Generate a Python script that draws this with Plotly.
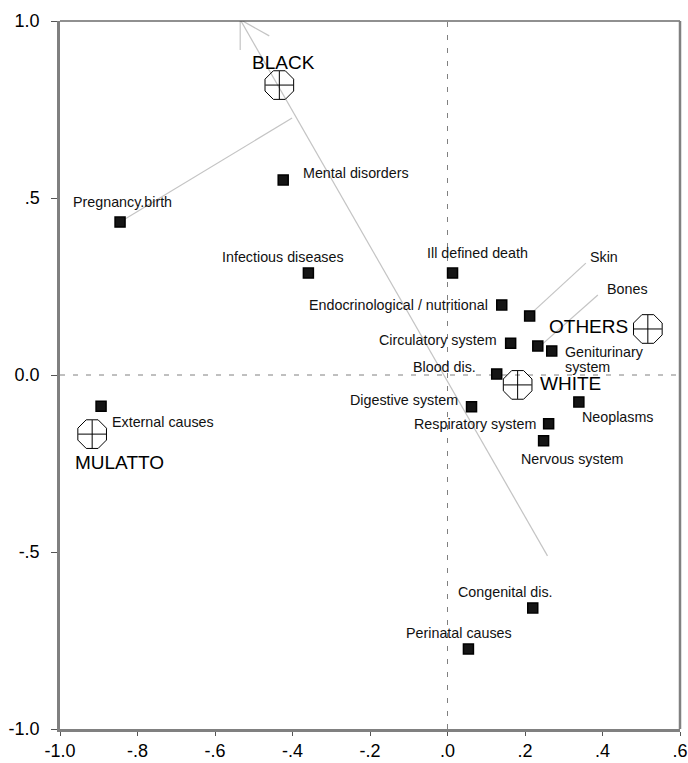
import plotly.graph_objects as go

# Causes of death (row points)
causes = [
    "Pregnancy.birth", "Mental disorders", "Infectious diseases", "Ill defined death",
    "Endocrinological / nutritional", "Skin", "Circulatory system", "Bones",
    "Geniturinary system", "Blood dis.", "Digestive system", "Neoplasms",
    "Respiratory system", "Nervous system", "External causes", "Congenital dis.",
    "Perinatal causes",
]
cause_x = [-0.845, -0.424, -0.359, 0.013, 0.140, 0.212, 0.163, 0.233, 0.269, 0.127,
           0.062, 0.339, 0.261, 0.248, -0.894, 0.220, 0.054]
cause_y = [0.432, 0.551, 0.288, 0.288, 0.198, 0.167, 0.090, 0.082, 0.068, 0.003,
           -0.090, -0.076, -0.138, -0.186, -0.088, -0.658, -0.774]

# Race / colour groups (column points)
groups = ["BLACK", "OTHERS", "WHITE", "MULATTO"]
group_x = [-0.434, 0.517, 0.181, -0.917]
group_y = [0.819, 0.130, -0.028, -0.167]

# Axis ticks
x_ticks = [-1.0, -0.8, -0.6, -0.4, -0.2, 0.0, 0.2, 0.4, 0.6]
x_tick_text = ["-1.0", "-.8", "-.6", "-.4", "-.2", ".0", ".2", ".4", ".6"]
y_ticks = [1.0, 0.5, 0.0, -0.5, -1.0]
y_tick_text = ["1.0", ".5", "0.0", "-.5", "-1.0"]

# Guide lines drawn on the map
arrow_x = [0.258, -0.535]
arrow_y = [-0.511, 1.004]
arrow_head1_x = [-0.535, -0.535]
arrow_head1_y = [1.004, 0.918]
arrow_head2_x = [-0.535, -0.460]
arrow_head2_y = [1.004, 0.958]
preg_leader_x = [-0.845, -0.401]
preg_leader_y = [0.432, 0.726]
skin_leader_x = [0.214, 0.357]
skin_leader_y = [0.172, 0.316]
bones_leader_x = [0.233, 0.388]
bones_leader_y = [0.076, 0.226]

FONT = "Liberation Sans, Arial, sans-serif"
GUIDE = "#c4c4c4"

# label placement for causes: list of (text line, xanchor, xshift, yshift)
cause_label_pos = {
    "Pregnancy.birth": [("Pregnancy.birth", "center", 2, 20)],
    "Mental disorders": [("Mental disorders", "left", 18, 7)],
    "Infectious diseases": [("Infectious diseases", "center", -25, 16)],
    "Ill defined death": [("Ill defined death", "center", 25, 20)],
    "Endocrinological / nutritional": [("Endocrinological / nutritional", "right", -12, 0)],
    "Skin": [("Skin", "center", 74, 59)],
    "Circulatory system": [("Circulatory system", "right", -12, 3)],
    "Bones": [("Bones", "center", 90, 57)],
    "Geniturinary system": [("Geniturinary", "left", 11, -1), ("system", "left", 11, -16)],
    "Blood dis.": [("Blood dis.", "right", -19, 7)],
    "Digestive system": [("Digestive system", "right", -12, 7)],
    "Neoplasms": [("Neoplasms", "center", 39, -15)],
    "Respiratory system": [("Respiratory system", "right", -11, 0)],
    "Nervous system": [("Nervous system", "center", 29, -18)],
    "External causes": [("External causes", "left", 9, -16)],
    "Congenital dis.": [("Congenital dis.", "center", -27, 16)],
    "Perinatal causes": [("Perinatal causes", "center", -9, 16)],
}
group_label_pos = {
    "BLACK": ("center", 4, 23),
    "OTHERS": ("right", -18, 2),
    "WHITE": ("left", 20, 1),
    "MULATTO": ("center", 27, -28),
}

fig = go.Figure()

line_sets = [
    (arrow_x, arrow_y), (arrow_head1_x, arrow_head1_y), (arrow_head2_x, arrow_head2_y),
    (preg_leader_x, preg_leader_y), (skin_leader_x, skin_leader_y),
    (bones_leader_x, bones_leader_y),
]
for lx, ly in line_sets:
    fig.add_trace(go.Scatter(x=lx, y=ly, mode="lines",
                             line=dict(color=GUIDE, width=1.2),
                             hoverinfo="skip", showlegend=False))

# cause points: filled dark squares
fig.add_trace(go.Scatter(
    x=cause_x, y=cause_y, mode="markers",
    marker=dict(symbol="square", size=10, color="#151515",
                line=dict(color="#000000", width=1.5)),
    showlegend=False, hoverinfo="text", text=causes,
))

# group points: open octagon with a cross inside
fig.add_trace(go.Scatter(
    x=group_x, y=group_y, mode="markers",
    marker=dict(symbol="octagon-open", size=31, color="#000000",
                line=dict(color="#000000", width=1)),
    showlegend=False, hoverinfo="text", text=groups,
))
fig.add_trace(go.Scatter(
    x=group_x, y=group_y, mode="markers",
    marker=dict(symbol="cross-thin-open", size=20, color="#000000",
                line=dict(color="#000000", width=1)),
    showlegend=False, hoverinfo="skip",
))

annotations = []
for name, cx, cy in zip(causes, cause_x, cause_y):
    for text, anchor, dx, dy in cause_label_pos[name]:
        annotations.append(dict(
            x=cx, y=cy, xref="x", yref="y", text=text, showarrow=False,
            xanchor=anchor, yanchor="middle", xshift=dx, yshift=dy,
            font=dict(family=FONT, size=14.3, color="#111111"),
        ))
for name, gx, gy in zip(groups, group_x, group_y):
    anchor, dx, dy = group_label_pos[name]
    annotations.append(dict(
        x=gx, y=gy, xref="x", yref="y", text=name, showarrow=False,
        xanchor=anchor, yanchor="middle", xshift=dx, yshift=dy,
        font=dict(family=FONT, size=19, color="#000000"),
    ))

shapes = [
    # dashed reference lines through the origin
    dict(type="line", xref="x", yref="y", x0=0, x1=0, y0=-1.0, y1=1.0,
         line=dict(color="#808080", width=1, dash="5px,8px"), layer="below"),
    dict(type="line", xref="x", yref="y", x0=-1.0, x1=0.6, y0=0, y1=0,
         line=dict(color="#808080", width=1, dash="5px,8px"), layer="below"),
    # frame: thin dark top, heavier grey right
    dict(type="line", xref="paper", yref="paper", x0=0, x1=1, y0=1, y1=1,
         line=dict(color="#222222", width=1.2)),
    dict(type="line", xref="paper", yref="paper", x0=1, x1=1, y0=0, y1=1,
         line=dict(color="#808080", width=2.5)),
]

axis_common = dict(
    showgrid=False, zeroline=False, showline=True, linecolor="#808080",
    linewidth=2.5, ticks="outside", tickwidth=1, tickcolor="#555555",
    tickfont=dict(family=FONT, size=18, color="#000000"), automargin=False,
)

fig.update_layout(
    width=688, height=763,
    margin=dict(l=60, r=8, t=21, b=34, autoexpand=False),
    paper_bgcolor="white", plot_bgcolor="white",
    xaxis=dict(range=[-1.0, 0.6], tickvals=x_ticks, ticktext=x_tick_text,
               ticklen=4, ticklabelstandoff=0, **axis_common),
    yaxis=dict(range=[-1.0, 1.0], tickvals=y_ticks, ticktext=y_tick_text,
               ticklen=6, ticklabelstandoff=8, **axis_common),
    annotations=annotations,
    shapes=shapes,
    showlegend=False,
)

fig.write_html("out.html")
